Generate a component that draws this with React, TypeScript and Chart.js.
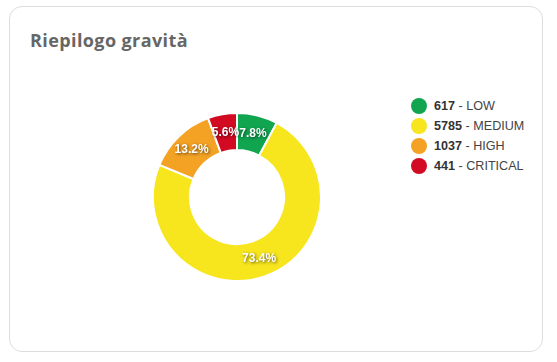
import React, { useEffect, useRef } from "react";
import { Chart, registerables } from "chart.js";

Chart.register(...registerables);

const labels = ["LOW", "MEDIUM", "HIGH", "CRITICAL"];
const values = [617, 5785, 1037, 441];
const colors = ["#11a550", "#f7e51e", "#f3a224", "#d20a22"];
const title = "Riepilogo gravità";

const pctPlugin = {
  id: "pctLabels",
  afterDatasetsDraw(chart: any) {
    const ctx = chart.ctx;
    const meta = chart.getDatasetMeta(0);
    const data = chart.data.datasets[0].data as number[];
    const total = data.reduce((a, b) => a + b, 0);
    ctx.save();
    ctx.font = "bold 12px Arial, 'Liberation Sans', sans-serif";
    ctx.textAlign = "center";
    ctx.textBaseline = "middle";
    ctx.fillStyle = "#ffffff";
    ctx.shadowColor = "rgba(0,0,0,0.6)";
    ctx.shadowBlur = 3;
    ctx.shadowOffsetX = 1;
    ctx.shadowOffsetY = 1;
    meta.data.forEach((arc: any, i: number) => {
      const p = arc.tooltipPosition();
      const txt = ((data[i] / total) * 100).toFixed(1) + "%";
      ctx.fillText(txt, p.x, p.y);
    });
    ctx.restore();
  },
};

export default function App() {
  const ref = useRef<HTMLCanvasElement | null>(null);
  useEffect(() => {
    if (!ref.current) return;
    const chart = new Chart(ref.current, {
      type: "doughnut",
      data: {
        labels,
        datasets: [
          {
            data: values,
            backgroundColor: colors,
            borderColor: "#ffffff",
            borderWidth: 2,
          },
        ],
      },
      options: {
        responsive: false,
        animation: false,
        cutout: "56%",
        layout: { padding: 0 },
        plugins: {
          legend: { display: false },
          tooltip: { enabled: false },
        },
      },
      plugins: [pctPlugin],
    });
    return () => chart.destroy();
  }, []);

  return (
    <div
      style={{
        position: "fixed",
        left: 9,
        top: 6,
        width: 534,
        height: 346,
        border: "1px solid #dcdcdc",
        borderRadius: 13,
        background: "#fff",
        boxSizing: "border-box",
      }}
    >
      <div
        style={{
          position: "absolute",
          left: 20,
          top: 21,
          fontFamily: "'Open Sans', Lato, sans-serif",
          fontWeight: 700,
          fontSize: 18,
          letterSpacing: 0.4,
          color: "#666666",
          whiteSpace: "nowrap",
        }}
      >
        {title}
      </div>
      <canvas
        ref={ref}
        width={170}
        height={170}
        style={{ position: "absolute", left: 142, top: 105, width: 170, height: 170 }}
      />
      <div style={{ position: "absolute", left: 401, top: 89 }}>
        {labels.map((l, i) => (
          <div
            key={l}
            style={{
              display: "flex",
              alignItems: "center",
              height: 20,
              fontFamily: "Arial, 'Liberation Sans', sans-serif",
              fontSize: 12.6,
              color: "#444",
              whiteSpace: "nowrap",
            }}
          >
            <span
              style={{
                display: "inline-block",
                width: 16,
                height: 16,
                borderRadius: "50%",
                background: colors[i],
                marginRight: 7,
              }}
            />
            <span>
              <b style={{ color: "#333" }}>{values[i]}</b> - {l}
            </span>
          </div>
        ))}
      </div>
    </div>
  );
}
